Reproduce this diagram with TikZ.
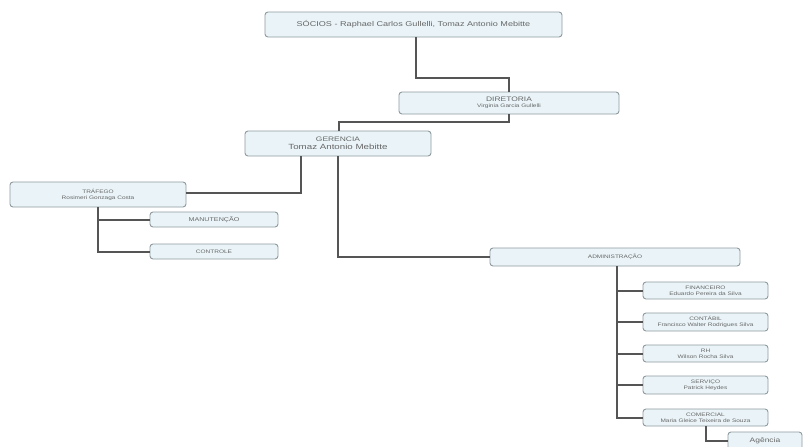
\documentclass[tikz,border=0pt]{standalone}
\usepackage{fontspec}
\newfontfamily\wide[FakeStretch=1.3]{Liberation Sans}
\begin{document}
\begin{tikzpicture}[x=1pt,y=-1pt,
  box/.style={draw=boxline,fill=boxfill,rounded corners=3pt,line width=0.9pt,
    inner sep=0pt,align=center,text=txt,font=\wide\fontsize{5}{6}\selectfont},
  link/.style={draw=linkc,line width=2pt}]
\definecolor{boxline}{HTML}{8E9A9E}
\definecolor{boxfill}{HTML}{EAF4F8}
\definecolor{txt}{HTML}{666666}
\definecolor{linkc}{HTML}{555555}
\useasboundingbox (0,0) rectangle (804,447);
\node[box,minimum width=297pt,minimum height=25pt,font=\wide\fontsize{7}{8}\selectfont] (socios) at (413.5,24.5) {SÓCIOS - Raphael Carlos Gullelli, Tomaz Antonio Mebitte};
\node[box,minimum width=220pt,minimum height=22pt] (diretoria) at (509,103) {{\fontsize{6.5}{7}\selectfont DIRETORIA}\\Virginia Garcia Gullelli};
\node[box,minimum width=186pt,minimum height=25pt,font=\wide\fontsize{6.5}{8}\selectfont] (gerencia) at (338,143.5) {GERENCIA\\{\fontsize{7.5}{8}\selectfont Tomaz Antonio Mebitte}};
\node[box,minimum width=176pt,minimum height=25pt] (trafego) at (98,194.5) {TRÁFEGO\\Rosimeri Gonzaga Costa};
\node[box,minimum width=128pt,minimum height=15pt,font=\wide\fontsize{5.5}{6}\selectfont] (manut) at (214,219.5) {MANUTENÇÃO};
\node[box,minimum width=128pt,minimum height=15pt] (controle) at (214,251.5) {CONTROLE};
\node[box,minimum width=250pt,minimum height=18pt] (admin) at (615,257) {ADMINISTRAÇÃO};
\node[box,minimum width=125pt,minimum height=17pt] (fin) at (705.5,290.5) {FINANCEIRO\\Eduardo Pereira da Silva};
\node[box,minimum width=125pt,minimum height=18pt] (cont) at (705.5,322) {CONTÁBIL\\Francisco Walter Rodrigues Silva};
\node[box,minimum width=125pt,minimum height=17pt] (rh) at (705.5,353.5) {RH\\Wilson Rocha Silva};
\node[box,minimum width=125pt,minimum height=18pt] (serv) at (705.5,385) {SERVIÇO\\Patrick Heydes};
\node[box,minimum width=125pt,minimum height=17pt] (com) at (705.5,417.5) {COMERCIAL\\Maria Gleice Teixeira de Souza};
\node[box,minimum width=74pt,minimum height=18pt,font=\wide\fontsize{6.5}{7}\selectfont] (agencia) at (765,441) {Agência};
\begin{scope}[on background layer/.style={}]
\draw[link] ([xshift=2.5pt]socios.south) -- ++(0,41) -| (diretoria.north);
\draw[link] (diretoria.south) -- ++(0,8) -| ([xshift=1pt]gerencia.north);
\draw[link] ([xshift=-37pt]gerencia.south) |- ([yshift=2pt]trafego.east);
\draw[link] (gerencia.south) |- (admin.west);
\draw[link] (trafego.south) |- (manut.west);
\draw[link] (trafego.south) |- (controle.west);
\draw[link] ([xshift=2pt]admin.south) |- (fin.west);
\draw[link] ([xshift=2pt]admin.south) |- (cont.west);
\draw[link] ([xshift=2pt]admin.south) |- (rh.west);
\draw[link] ([xshift=2pt]admin.south) |- (serv.west);
\draw[link] ([xshift=2pt]admin.south) |- (com.west);
\draw[link] (com.south) |- (agencia.west);
\end{scope}
\end{tikzpicture}
\end{document}
